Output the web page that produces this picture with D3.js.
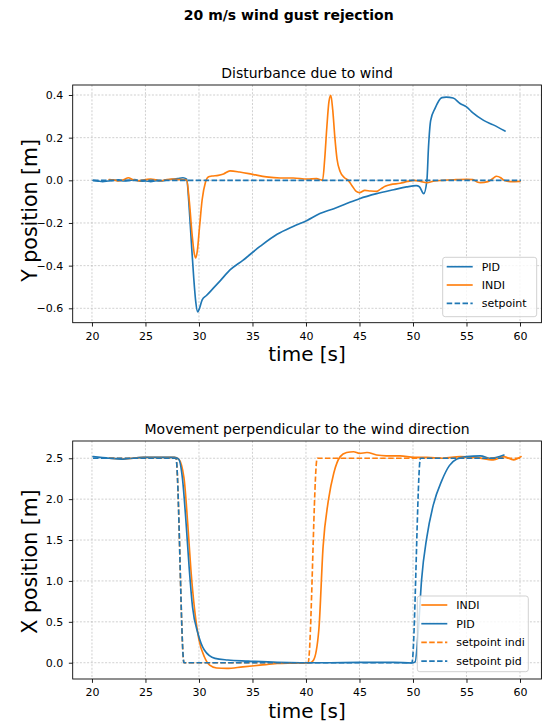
<!DOCTYPE html>
<html>
<head>
<meta charset="utf-8">
<script src="https://cdn.jsdelivr.net/npm/d3@7"></script>
<style>
  html, body { margin: 0; padding: 0; background: #fff; }
  svg { display: block; font-family: "DejaVu Sans", sans-serif; }
</style>
</head>
<body>
<svg id="chart" width="542" height="724"></svg>
<script>
// ---------------- DATA ----------------
const suptitle = "20 m/s wind gust rejection";
const titles = ["Disturbance due to wind", "Movement perpendicular to the wind direction"];
const xTicks = [20, 25, 30, 35, 40, 45, 50, 55, 60];
const yTicksTop = [-0.6, -0.4, -0.2, 0.0, 0.2, 0.4];
const yTicksBottom = [0.0, 0.5, 1.0, 1.5, 2.0, 2.5];

// Top: Y position
const tPidY = [20.1,20.6,21.0,21.5,22.0,22.5,23.0,23.5,24.0,24.5,25.0,25.5,26.0,26.5,27.0,27.5,28.0,28.5,28.85,29.1,29.3,29.5,29.7,29.88,30.05,30.3,30.7,31.3,32.0,32.9,34.1,35.7,37.3,38.8,40.1,41.3,42.6,43.8,45.0,46.6,48.2,49.4,50.3,50.6,51.0,51.3,51.45,51.65,52.05,52.7,53.1,53.75,54.4,55.0,55.6,56.6,57.5,58.6];
const vPidY = [0,-0.004,-0.006,-0.003,0,0.002,-0.003,0,0.003,-0.004,-0.003,-0.006,-0.002,-0.003,0.002,0.005,0.008,0.012,0.005,-0.14,-0.30,-0.45,-0.57,-0.617,-0.60,-0.56,-0.54,-0.508,-0.47,-0.42,-0.375,-0.31,-0.253,-0.216,-0.188,-0.156,-0.133,-0.109,-0.086,-0.0625,-0.044,-0.031,-0.025,-0.03,-0.0625,0,0.156,0.28,0.336,0.3875,0.39,0.386,0.36,0.344,0.316,0.281,0.26,0.231];

const tIndiY = [21.6,22.0,22.5,23.0,23.4,23.8,24.3,25.0,25.5,26.0,26.5,27.0,27.5,28.0,28.5,28.85,29.1,29.35,29.55,29.69,29.85,30.05,30.3,30.6,30.87,31.2,31.8,32.3,32.9,33.8,35.1,36.3,37.6,38.8,40.1,41.0,41.3,41.55,41.75,41.95,42.15,42.32,42.5,42.7,42.9,43.2,43.6,43.95,44.3,44.7,45.0,45.5,46.0,46.6,47.0,47.4,47.9,48.8,49.5,50.1,50.7,51.3,52.0,52.8,54.0,55.0,55.6,56.0,56.3,57.0,57.5,57.8,58.2,58.5,59.1,60.0];
const vIndiY = [0.004,0.002,-0.003,0.004,0.012,0.004,-0.002,0.003,0.006,0.002,-0.002,0.004,0.006,0.004,0.003,0,-0.1,-0.25,-0.34,-0.364,-0.33,-0.22,-0.09,-0.01,0.016,0.02,0.023,0.03,0.044,0.039,0.027,0.016,0.011,0.011,0.006,0.008,0.004,0.0,0.1,0.25,0.37,0.398,0.33,0.2,0.1,0.04,0.012,0,-0.025,-0.052,-0.058,-0.047,-0.05,-0.052,-0.04,-0.028,-0.02,-0.014,-0.005,0,-0.005,-0.011,-0.003,0,0.003,0.005,0.003,-0.008,-0.011,-0.006,0.01,0.019,0.012,0.0,-0.006,-0.005];

const tSetY = [20.1, 60.1];
const vSetY = [0, 0];

// Bottom: X position
const tIndiX = [21.6,22.9,24.8,26.3,27.7,28.1,28.6,28.95,29.25,29.6,30.0,30.5,31.0,31.65,32.6,34.1,35.7,37.3,38.8,40.4,40.7,41.2,41.6,42.1,42.6,43.2,43.8,44.45,45.0,45.7,46.6,47.5,48.8,50.1,51.3,52.8,54.4,55.9,57.5,58.5,59.4,60.1];
const vIndiX = [2.5,2.49,2.51,2.51,2.51,2.49,2.26,1.70,1.13,0.64,0.28,0.073,-0.03,-0.065,-0.07,-0.05,-0.03,-0.01,-0.005,0,0.03,0.40,1.42,1.99,2.32,2.52,2.57,2.58,2.56,2.57,2.54,2.53,2.53,2.51,2.51,2.50,2.52,2.51,2.48,2.52,2.48,2.52];

const tPidX = [20.1,21.6,22.9,24.8,26.3,27.7,28.1,28.45,28.8,29.1,29.4,29.9,30.5,31.5,32.7,34.6,37.3,39.5,42.0,45.0,48.2,49.9,50.2,50.5,50.8,51.3,51.9,52.7,53.4,54.1,55.0,56.3,57.2,58.5];
const vPidX = [2.52,2.5,2.49,2.51,2.51,2.51,2.49,2.26,1.70,1.13,0.68,0.36,0.155,0.053,0.033,0.02,0.004,0,0,0.004,0.004,-0.003,0.01,0.40,1.01,1.54,1.93,2.23,2.41,2.49,2.52,2.53,2.50,2.54];

const tSetIndi = [21.6, 27.85, 28.6, 40.2, 41.05, 60.1];
const vSetIndi = [2.5, 2.5, 0, 0, 2.5, 2.5];
const tSetPid = [20.1, 27.85, 28.6, 49.9, 50.7, 58.5];
const vSetPid = [2.5, 2.5, 0, 0, 2.5, 2.5];

// ---------------- DRAW ----------------
const C_BLUE = "#1f77b4", C_ORANGE = "#ff7f0e";
const svg = d3.select("#chart");
const LW = 1.65, DASH = "5.5,2.4";

svg.append("text").attr("x", 288.7).attr("y", 20)
  .attr("text-anchor", "middle").attr("font-size", 14).attr("font-weight", "bold")
  .text(suptitle);

function panel(opts) {
  const x = d3.scaleLinear().domain([18.2, 62.0]).range([72.7, 541.4]);
  const y = d3.scaleLinear().domain(opts.yDomain).range([opts.bottom, opts.top]);
  const g = svg.append("g");
  const L = 72.7, R = 541.4, T = opts.top, B = opts.bottom;
  const clipId = "clip" + opts.id;
  svg.append("clipPath").attr("id", clipId).append("rect")
    .attr("x", L).attr("y", T).attr("width", R - L).attr("height", B - T);

  // grid
  const grid = g.append("g").attr("stroke", "#b0b0b0").attr("stroke-width", 0.6).attr("stroke-dasharray", "2,1.6");
  xTicks.forEach(v => grid.append("line").attr("x1", x(v)).attr("x2", x(v)).attr("y1", T).attr("y2", B));
  opts.yTicks.forEach(v => grid.append("line").attr("x1", L).attr("x2", R).attr("y1", y(v)).attr("y2", y(v)));

  // series
  const lines = g.append("g").attr("clip-path", `url(#${clipId})`);
  const line = d3.line().x(d => x(d[0])).y(d => y(d[1])).curve(d3.curveMonotoneX);
  opts.series.forEach(s => {
    const data = s.t.map((t, i) => [t, s.v[i]]);
    lines.append("path").datum(data).attr("d", line)
      .attr("fill", "none").attr("stroke", s.color).attr("stroke-width", LW)
      .attr("stroke-dasharray", s.dashed ? DASH : null)
      .attr("stroke-linejoin", "round").attr("stroke-linecap", s.dashed ? "butt" : "round");
  });

  // axes
  const xAxis = d3.axisBottom(x).tickValues(xTicks).tickFormat(d3.format("d")).tickSizeOuter(0).tickSize(3.85).tickPadding(5.5);
  const yAxis = d3.axisLeft(y).tickValues(opts.yTicks).tickFormat(d3.format(".1f")).tickSizeOuter(0).tickSize(3.85).tickPadding(5.6);
  const gx = g.append("g").attr("transform", `translate(0,${B})`).call(xAxis);
  const gy = g.append("g").attr("transform", `translate(${L},0)`).call(yAxis);
  [gx, gy].forEach(a => {
    a.select(".domain").remove();
    a.selectAll("line").attr("stroke", "#000").attr("stroke-width", 0.88);
    a.selectAll("text").attr("font-size", 11).attr("fill", "#000").attr("font-family", "DejaVu Sans");
  });

  // frame
  g.append("rect").attr("x", L).attr("y", T).attr("width", R - L).attr("height", B - T)
    .attr("fill", "none").attr("stroke", "#000").attr("stroke-width", 0.88);

  // title & labels
  g.append("text").attr("x", (L + R) / 2).attr("y", T - 7).attr("text-anchor", "middle")
    .attr("font-size", 14).text(opts.title);
  g.append("text").attr("x", (L + R) / 2).attr("y", B + 38.5).attr("text-anchor", "middle")
    .attr("font-size", 20).text("time [s]");
  g.append("text").attr("transform", `translate(36.5,${(T + B) / 2 + opts.ylabelShift}) rotate(-90)`)
    .attr("text-anchor", "middle").attr("font-size", 20.5).text(opts.ylabel);

  // legend
  const lg = g.append("g");
  const lw = opts.legend;
  lg.append("rect").attr("x", lw.x).attr("y", lw.y).attr("width", lw.w).attr("height", lw.h)
    .attr("rx", 2.5).attr("fill", "#fff").attr("fill-opacity", 0.8).attr("stroke", "#cccccc").attr("stroke-width", 0.9);
  opts.series.slice().sort((a, b) => a.order - b.order).forEach((s, i) => {
    const yy = lw.y + lw.first + i * lw.step;
    lg.append("line").attr("x1", lw.x + 4).attr("x2", lw.x + 30).attr("y1", yy).attr("y2", yy)
      .attr("stroke", s.color).attr("stroke-width", LW).attr("stroke-dasharray", s.dashed ? DASH : null);
    lg.append("text").attr("x", lw.x + 39).attr("y", yy).attr("dy", "0.36em")
      .attr("font-size", 11).text(s.name);
  });
}

panel({
  id: 1, top: 85, bottom: 322.7, yDomain: [-0.6675, 0.4469], yTicks: yTicksTop,
  title: titles[0], ylabel: "Y position [m]", ylabelShift: 6.5,
  series: [
    { name: "PID", t: tPidY, v: vPidY, color: C_BLUE, order: 0 },
    { name: "INDI", t: tIndiY, v: vIndiY, color: C_ORANGE, order: 1 },
    { name: "setpoint", t: tSetY, v: vSetY, color: C_BLUE, dashed: true, order: 2 }
  ],
  legend: { x: 442.7, y: 257.3, w: 94, h: 59.4, first: 9.4, step: 18.3 }
});

panel({
  id: 2, top: 441, bottom: 679, yDomain: [-0.199, 2.711], yTicks: yTicksBottom,
  title: titles[1], ylabel: "X position [m]", ylabelShift: 1.5,
  series: [
    { name: "INDI", t: tIndiX, v: vIndiX, color: C_ORANGE, order: 0 },
    { name: "PID", t: tPidX, v: vPidX, color: C_BLUE, order: 1 },
    { name: "setpoint indi", t: tSetIndi, v: vSetIndi, color: C_ORANGE, dashed: true, order: 2 },
    { name: "setpoint pid", t: tSetPid, v: vSetPid, color: C_BLUE, dashed: true, order: 3 }
  ],
  legend: { x: 417.3, y: 596, w: 111, h: 75.7, first: 9, step: 18.7 }
});
</script>
</body>
</html>
